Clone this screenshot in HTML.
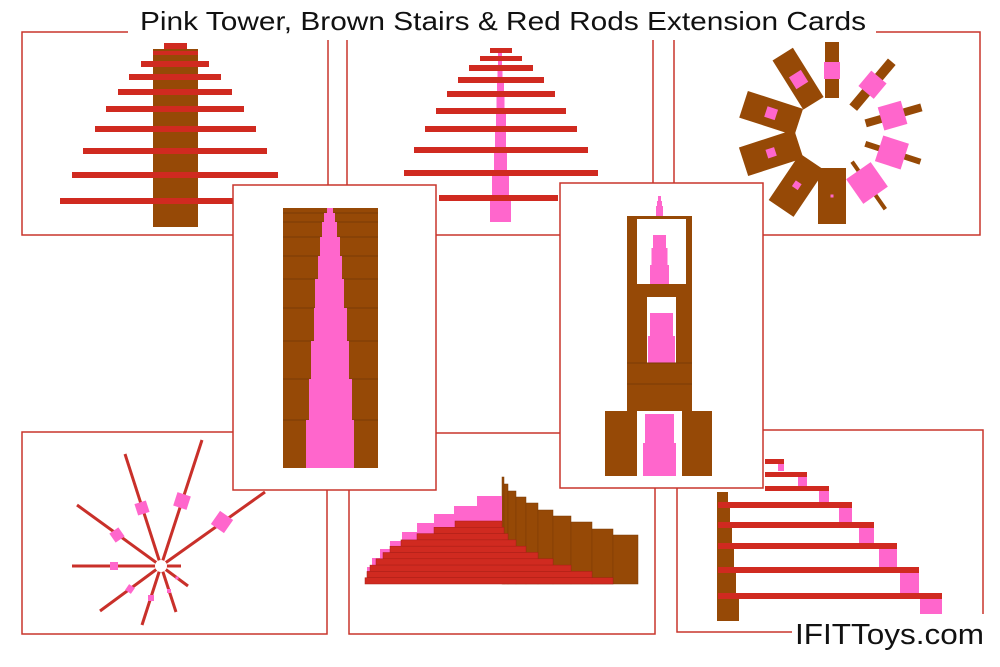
<!DOCTYPE html>
<html><head><meta charset="utf-8"><style>
html,body{margin:0;padding:0;background:#fff;}
svg{display:block;}
</style></head><body>
<svg width="1000" height="667" viewBox="0 0 1000 667" xmlns="http://www.w3.org/2000/svg">
<rect width="1000" height="667" fill="#fff"/>
<g fill="none" stroke="#c9352c" stroke-width="1.5">
<rect x="22" y="32" width="306" height="203"/>
<rect x="347" y="32" width="306" height="203"/>
<rect x="674" y="32" width="306" height="203"/>
<rect x="22" y="432" width="305" height="202"/>
<rect x="349" y="433" width="306" height="201"/>
<rect x="677" y="430" width="306" height="202"/>
</g>
<!-- title background -->
<rect x="128" y="0" width="748" height="40" fill="#fff"/>
<text x="140" y="30" font-family="Liberation Sans, sans-serif" font-size="26" fill="#111" textLength="726" lengthAdjust="spacingAndGlyphs">Pink Tower, Brown Stairs &amp; Red Rods Extension Cards</text>

<!-- top-left card -->
<rect x="153" y="49" width="45" height="178" fill="#964906"/>
<rect x="164" y="43" width="23" height="6" fill="#d02a20"/>
<g fill="#d02a20">
<rect x="153" y="51" width="45" height="4"/>
<rect x="141" y="61" width="68" height="6"/>
<rect x="129" y="74" width="92" height="6"/>
<rect x="118" y="89" width="114" height="6"/>
<rect x="106" y="106" width="138" height="6"/>
<rect x="95" y="126" width="161" height="6"/>
<rect x="83" y="148" width="184" height="6"/>
<rect x="72" y="172" width="206" height="6"/>
<rect x="60" y="198" width="232" height="6"/>
</g>

<!-- top-middle card -->
<g fill="#ff66cc">
<rect x="498" y="50" width="4" height="18"/>
<rect x="497.5" y="68" width="5" height="12"/>
<rect x="497" y="80" width="7" height="14"/>
<rect x="496.5" y="94" width="8" height="17"/>
<rect x="496" y="111" width="10" height="18"/>
<rect x="495" y="129" width="11" height="21"/>
<rect x="494" y="150" width="13" height="23"/>
<rect x="492" y="173" width="17" height="25"/>
<rect x="490" y="198" width="21" height="24"/>
</g>
<g fill="#d02a20">
<rect x="490" y="48" width="22" height="5"/>
<rect x="480" y="56" width="42" height="5"/>
<rect x="469" y="65" width="64" height="6"/>
<rect x="458" y="77" width="86" height="6"/>
<rect x="447" y="91" width="108" height="6"/>
<rect x="436" y="108" width="130" height="6"/>
<rect x="425" y="126" width="152" height="6"/>
<rect x="414" y="147" width="174" height="6"/>
<rect x="404" y="170" width="194" height="6"/>
<rect x="439" y="195" width="119" height="6"/>
</g>

<!-- top-right card: ring -->
<g transform="translate(832,133)">
<g transform="rotate(0)"><rect x="-7" y="-91" width="14" height="56" fill="#964906"/><rect x="-8" y="-71" width="16" height="17" fill="#ff66cc"/></g>
<g transform="rotate(40)"><rect x="-5" y="-93" width="10" height="60" fill="#964906"/><rect x="-10" y="-73" width="20" height="20" fill="#ff66cc"/></g>
<g transform="rotate(74)"><rect x="-4" y="-93" width="8" height="58" fill="#964906"/><rect x="-12" y="-75" width="24" height="24" fill="#ff66cc"/></g>
<g transform="rotate(108)"><rect x="-3" y="-93" width="6" height="58" fill="#964906"/><rect x="-13.5" y="-76.5" width="27" height="27" fill="#ff66cc"/></g>
<g transform="rotate(145)"><rect x="-2" y="-93" width="4" height="58" fill="#964906"/><rect x="-15" y="-76" width="30" height="30" fill="#ff66cc"/></g>
<g transform="rotate(180)"><rect x="-14" y="-91" width="28" height="56" fill="#964906"/><rect x="-1.5" y="-64.5" width="3" height="3" fill="#ff66cc"/></g>
<g transform="rotate(214)"><rect x="-15" y="-91" width="30" height="56" fill="#964906"/><rect x="-3.5" y="-66.5" width="7" height="7" fill="#ff66cc"/></g>
<g transform="rotate(252)"><rect x="-15" y="-93" width="30" height="58" fill="#964906"/><rect x="-4.5" y="-68.5" width="9" height="9" fill="#ff66cc"/></g>
<g transform="rotate(288)"><rect x="-14" y="-93" width="28" height="58" fill="#964906"/><rect x="-5.5" y="-69.5" width="11" height="11" fill="#ff66cc"/></g>
<g transform="rotate(328)"><rect x="-12" y="-93" width="24" height="58" fill="#964906"/><rect x="-7" y="-70" width="14" height="14" fill="#ff66cc"/></g>
</g>

<!-- bottom-left star -->
<g stroke="#c9302a" stroke-width="3" stroke-linecap="butt">
<line x1="161" y1="566" x2="202" y2="440"/>
<line x1="161" y1="566" x2="125" y2="454"/>
<line x1="161" y1="566" x2="77" y2="505"/>
<line x1="161" y1="566" x2="265" y2="492"/>
<line x1="72" y1="566" x2="181" y2="566"/>
<line x1="161" y1="566" x2="100" y2="611"/>
<line x1="161" y1="566" x2="142" y2="625"/>
<line x1="161" y1="566" x2="176" y2="612"/>
<line x1="161" y1="566" x2="188" y2="586"/>
</g>
<circle cx="161" cy="566" r="6" fill="#fff"/>
<g fill="#ff66cc">
<rect x="175" y="494" width="14" height="14" transform="rotate(18 182 501)"/>
<rect x="136" y="502" width="12" height="12" transform="rotate(-18 142 508)"/>
<rect x="111.5" y="529.5" width="11" height="11" transform="rotate(-35 117 535)"/>
<rect x="214" y="514" width="16" height="16" transform="rotate(35 222 522)"/>
<rect x="110" y="562" width="8" height="8"/>
<rect x="126.5" y="585.5" width="7" height="7" transform="rotate(35 130 589)"/>
<rect x="148" y="595" width="6" height="6"/>
<rect x="167" y="589" width="4" height="4"/>
<rect x="175.5" y="576.5" width="3" height="3"/>
</g>

<!-- bottom-middle: stairs -->
<g fill="#964906" stroke="#7a3a05" stroke-width="0.5">
<rect x="502" y="477" width="2" height="107"/>
<rect x="504" y="484" width="4" height="100"/>
<rect x="508" y="491" width="8" height="93"/>
<rect x="516" y="497" width="10" height="87"/>
<rect x="526" y="503" width="12" height="81"/>
<rect x="538" y="510" width="15" height="74"/>
<rect x="553" y="516" width="18" height="68"/>
<rect x="571" y="522" width="21" height="62"/>
<rect x="592" y="529" width="21" height="55"/>
<rect x="613" y="535" width="25" height="49"/>
</g>
<g fill="#ff66cc">
<rect x="477" y="496" width="25" height="30"/>
<rect x="454" y="506" width="23" height="30"/>
<rect x="434" y="514" width="20" height="30"/>
<rect x="417" y="523" width="17" height="30"/>
<rect x="402" y="532" width="15" height="30"/>
<rect x="390" y="541" width="12" height="30"/>
<rect x="380" y="549" width="10" height="30"/>
<rect x="372" y="558" width="8" height="22"/>
<rect x="367" y="567" width="5" height="15"/>
</g>
<g fill="#d02a20" stroke="#a81e16" stroke-width="0.5">
<rect x="455" y="521" width="47" height="6.3"/>
<rect x="434" y="527.3" width="70" height="6.3"/>
<rect x="417" y="533.6" width="91" height="6.3"/>
<rect x="401" y="539.9" width="115" height="6.3"/>
<rect x="390" y="546.2" width="136" height="6.3"/>
<rect x="383" y="552.5" width="155" height="6.3"/>
<rect x="376" y="558.8" width="177" height="6.3"/>
<rect x="370" y="565.1" width="201" height="6.3"/>
<rect x="367" y="571.4" width="225" height="6.3"/>
<rect x="365" y="577.7" width="248" height="6.3"/>
</g>

<!-- bottom-right: rods & stairs -->
<polygon fill="#964906" points="717,492 728,492 728,505 730,505 730,525 732,525 732,546 734,546 734,570 736,570 736,596 739,596 739,621 717,621"/>
<g fill="#ff66cc">
<rect x="778" y="463" width="6" height="8"/>
<rect x="798" y="476" width="9" height="12"/>
<rect x="819" y="490" width="10" height="15"/>
<rect x="839" y="507" width="13" height="18"/>
<rect x="859" y="527" width="15" height="21"/>
<rect x="879" y="548" width="18" height="24"/>
<rect x="900" y="572" width="19" height="26"/>
<rect x="920" y="598" width="22" height="16"/>
</g>
<g fill="#d02a20">
<rect x="765" y="459" width="19" height="5"/>
<rect x="765" y="472" width="42" height="5"/>
<rect x="765" y="486" width="64" height="5"/>
<rect x="718" y="502" width="134" height="6"/>
<rect x="718" y="522" width="156" height="6"/>
<rect x="718" y="543" width="179" height="6"/>
<rect x="718" y="567" width="201" height="6"/>
<rect x="718" y="593" width="224" height="6"/>
</g>
<rect x="792" y="614" width="200" height="40" fill="#fff"/>
<text x="795" y="644" font-family="Liberation Sans, sans-serif" font-size="29" fill="#111" textLength="189" lengthAdjust="spacingAndGlyphs">IFITToys.com</text>

<!-- middle-left card -->
<rect x="233" y="185" width="203" height="305" fill="#fff" stroke="#c9352c" stroke-width="1.5"/>
<rect x="283" y="208" width="95" height="260" fill="#964906"/>
<g stroke="#7a3a05" stroke-width="1">
<line x1="283" y1="213" x2="378" y2="213"/><line x1="283" y1="222" x2="378" y2="222"/>
<line x1="283" y1="237" x2="378" y2="237"/><line x1="283" y1="256" x2="378" y2="256"/>
<line x1="283" y1="279" x2="378" y2="279"/><line x1="283" y1="308" x2="378" y2="308"/>
<line x1="283" y1="341" x2="378" y2="341"/><line x1="283" y1="379" x2="378" y2="379"/>
<line x1="283" y1="420" x2="378" y2="420"/>
</g>
<g fill="#ff66cc">
<rect x="327" y="208" width="6" height="5"/>
<rect x="324" y="213" width="11" height="9"/>
<rect x="322" y="222" width="15" height="15"/>
<rect x="320" y="237" width="20" height="19"/>
<rect x="318" y="256" width="24" height="23"/>
<rect x="315" y="279" width="29" height="29"/>
<rect x="314" y="308" width="33" height="33"/>
<rect x="311" y="341" width="38" height="38"/>
<rect x="309" y="379" width="43" height="41"/>
<rect x="306" y="420" width="48" height="48"/>
</g>

<!-- middle-right card -->
<rect x="560" y="183" width="203" height="305" fill="#fff" stroke="#c9352c" stroke-width="1.5"/>
<g fill="#ff66cc">
<rect x="658" y="196" width="3" height="5"/>
<rect x="657" y="201" width="5" height="5"/>
<rect x="656" y="206" width="7" height="10"/>
</g>
<rect x="627" y="216" width="65" height="195" fill="#964906"/>
<rect x="637" y="219" width="49" height="65" fill="#fff"/>
<rect x="647" y="297" width="29" height="66" fill="#fff"/>
<g fill="#ff66cc">
<rect x="653" y="235" width="13" height="13"/>
<rect x="651.5" y="248" width="16" height="17"/>
<rect x="650" y="265" width="19" height="19"/>
<rect x="650" y="313" width="23" height="23"/>
<rect x="648" y="336" width="27" height="27"/>
</g>
<g stroke="#7a3a05" stroke-width="1">
<line x1="627" y1="363" x2="692" y2="363"/><line x1="627" y1="384" x2="692" y2="384"/>
</g>
<rect x="605" y="411" width="107" height="65" fill="#964906"/>
<rect x="637" y="411" width="45" height="65" fill="#fff"/>
<rect x="645" y="414" width="29" height="29" fill="#ff66cc"/>
<rect x="643" y="443" width="33" height="33" fill="#ff66cc"/>
</svg>
</body></html>
